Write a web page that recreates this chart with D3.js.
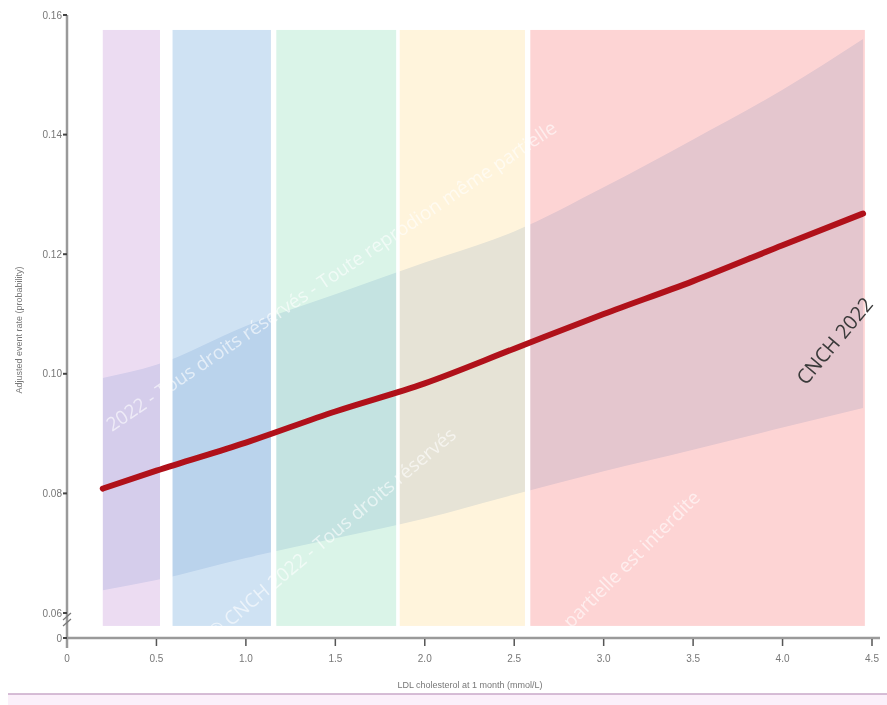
<!DOCTYPE html>
<html>
<head>
<meta charset="utf-8">
<script src="https://cdn.jsdelivr.net/npm/d3@7"></script>
<style>
  body { margin: 0; background: #fff; }
  svg { display: block; font-family: "Liberation Sans", Arial, sans-serif; }
</style>
</head>
<body>
<div id="chart"></div>
<script>
// LDL cholesterol (mmol/L) at 1 month
var ldl = [0.2, 0.5, 1.0, 1.5, 2.0, 2.5, 3.0, 3.5, 4.0, 4.45];
// adjusted event rate and its confidence band
var rate  = [0.0808, 0.0838, 0.0885, 0.0937, 0.0984, 0.1042, 0.1100, 0.1155, 0.1215, 0.1268];
var upper = [0.0993, 0.1015, 0.1080, 0.1133, 0.1186, 0.1238, 0.1312, 0.1392, 0.1475, 0.1560];
var lower = [0.0638, 0.0655, 0.0692, 0.0725, 0.0758, 0.0798, 0.0837, 0.0873, 0.0910, 0.0943];

// LDL categories shown as coloured columns
var bandStart = [0.2, 0.59, 1.17, 1.86, 2.59];
var bandEnd   = [0.52, 1.14, 1.84, 2.56, 4.46];
var bandColor = ["#ecdcf2", "#cfe2f3", "#daf4e8", "#fff4dc", "#fdd4d4"];

var xTicks = [0, 0.5, 1.0, 1.5, 2.0, 2.5, 3.0, 3.5, 4.0, 4.5];
var yTicks = [0, 0.06, 0.08, 0.10, 0.12, 0.14, 0.16];

var width = 887, height = 705;

var svg = d3.select("#chart").append("svg")
    .attr("width", width)
    .attr("height", height);

var x = d3.scaleLinear().domain([0, 4.5]).range([67, 872]);
// broken axis: 0 -> 0.06 squeezed
var y = d3.scaleLinear().domain([0, 0.06, 0.16]).range([638, 613, 15]);

var bandTop = 0.1575, bandBottom = 0.029;

var bands = bandStart.map(function(d, i) {
    return {x0: d, x1: bandEnd[i], color: bandColor[i]};
});

svg.append("clipPath").attr("id", "bandclip")
  .selectAll("rect").data(bands).enter().append("rect")
    .attr("x", function(d) { return x(d.x0); })
    .attr("width", function(d) { return x(d.x1) - x(d.x0); })
    .attr("y", y(bandTop))
    .attr("height", y(bandBottom) - y(bandTop));

svg.append("g").selectAll("rect").data(bands).enter().append("rect")
    .attr("x", function(d) { return x(d.x0); })
    .attr("width", function(d) { return x(d.x1) - x(d.x0); })
    .attr("y", y(bandTop))
    .attr("height", y(bandBottom) - y(bandTop))
    .attr("fill", function(d) { return d.color; });

var pts = ldl.map(function(d, i) {
    return {x: d, y: rate[i], lo: lower[i], hi: upper[i]};
});

// confidence band, only visible over the coloured columns
svg.append("path")
    .datum(pts)
    .attr("clip-path", "url(#bandclip)")
    .attr("fill", "#e6eef8")
    .style("mix-blend-mode", "multiply")
    .attr("d", d3.area()
        .curve(d3.curveMonotoneX)
        .x(function(d) { return x(d.x); })
        .y0(function(d) { return y(d.lo); })
        .y1(function(d) { return y(d.hi); }));

// watermark text
var wm = svg.append("g")
    .attr("fill", "#fff")
    .attr("fill-opacity", 0.6)
    .attr("font-family", "'Open Sans', sans-serif")
    .attr("font-size", 19);
wm.append("text")
    .attr("transform", "translate(112,432) rotate(-34)")
    .text("2022 - Tous droits réservés - Toute reprodion même partielle");
wm.append("text")
    .attr("transform", "translate(215,640) rotate(-40)")
    .text("© CNCH 2022 - Tous droits réservés");
wm.append("text")
    .attr("transform", "translate(560,640) rotate(-45)")
    .text("e partielle est interdite");

// main curve
svg.append("path")
    .datum(pts)
    .attr("fill", "none")
    .attr("stroke", "#b0111a")
    .attr("stroke-width", 6)
    .attr("stroke-linecap", "round")
    .attr("d", d3.line()
        .curve(d3.curveMonotoneX)
        .x(function(d) { return x(d.x); })
        .y(function(d) { return y(d.y); }));

// axes
var axisColor = "#9a9a9a";

svg.append("line")
    .attr("x1", x(0)).attr("x2", 880)
    .attr("y1", y(0)).attr("y2", y(0))
    .attr("stroke", axisColor).attr("stroke-width", 2.5);

svg.append("line")
    .attr("x1", x(0)).attr("x2", x(0))
    .attr("y1", y(0.16)).attr("y2", y(0) + 10)
    .attr("stroke", axisColor).attr("stroke-width", 2.5);

// axis break marks
[0, 6].forEach(function(off) {
    svg.append("line")
        .attr("x1", x(0) - 4).attr("x2", x(0) + 4)
        .attr("y1", 626 - off).attr("y2", 619 - off)
        .attr("stroke", "#777").attr("stroke-width", 1.2);
});

var xg = svg.append("g").attr("font-size", 10).attr("fill", "#777");
xg.selectAll("line").data(xTicks.slice(1)).enter().append("line")
    .attr("x1", function(d) { return x(d); })
    .attr("x2", function(d) { return x(d); })
    .attr("y1", y(0) + 1).attr("y2", y(0) + 8)
    .attr("stroke", "#555").attr("stroke-width", 1.5);
xg.selectAll("text").data(xTicks).enter().append("text")
    .attr("x", function(d) { return x(d); })
    .attr("y", 662)
    .attr("text-anchor", "middle")
    .text(function(d) { return d === 0 ? "0" : d3.format(".1f")(d); });

var yg = svg.append("g").attr("font-size", 10).attr("fill", "#777");
yg.selectAll("line").data(yTicks).enter().append("line")
    .attr("x1", x(0) - 4).attr("x2", x(0))
    .attr("y1", function(d) { return y(d); })
    .attr("y2", function(d) { return y(d); })
    .attr("stroke", "#444").attr("stroke-width", 2);
yg.selectAll("text").data(yTicks).enter().append("text")
    .attr("x", x(0) - 5)
    .attr("y", function(d) { return y(d); })
    .attr("dy", "0.35em")
    .attr("text-anchor", "end")
    .text(function(d) { return d === 0 ? "0" : d3.format(".2f")(d); });

svg.append("text")
    .attr("x", 470).attr("y", 688)
    .attr("text-anchor", "middle")
    .attr("font-size", 9)
    .attr("fill", "#777")
    .text("LDL cholesterol at 1 month (mmol/L)");

svg.append("text")
    .attr("transform", "translate(22,330) rotate(-90)")
    .attr("text-anchor", "middle")
    .attr("font-size", 9)
    .attr("fill", "#777")
    .text("Adjusted event rate (probability)");

// copyright mark
svg.append("text")
    .attr("transform", "translate(806,386) rotate(-50)")
    .attr("font-family", "'Open Sans', sans-serif")
    .attr("font-size", 20)
    .attr("fill", "#3a3a3a")
    .text("CNCH 2022");

// page edge at the bottom
svg.append("rect")
    .attr("x", 8).attr("y", 694).attr("width", width - 8).attr("height", 11)
    .attr("fill", "#fbf0fa");
svg.append("line")
    .attr("x1", 8).attr("x2", width)
    .attr("y1", 694).attr("y2", 694)
    .attr("stroke", "#c8a8c8").attr("stroke-width", 1.5);
</script>
</body>
</html>
